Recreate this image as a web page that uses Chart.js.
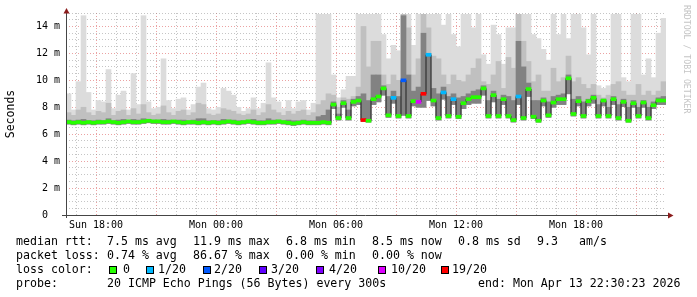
<!DOCTYPE html>
<html><head><meta charset="utf-8">
<script src="https://cdn.jsdelivr.net/npm/chart.js@4.4.1/dist/chart.umd.min.js"></script>
<style>
html,body{margin:0;padding:0;background:#fff;}
#wrap{position:relative;width:697px;height:297px;overflow:hidden;background:#fff;}
#c{position:absolute;left:0;top:0;}
.t{position:absolute;font-family:"DejaVu Sans Mono",monospace;font-size:11.6px;line-height:14px;color:#000;white-space:pre;}
.sq{position:absolute;width:8px;height:8px;box-sizing:border-box;border:1px solid #000;}
#wm{position:absolute;left:682px;top:5px;font-family:"DejaVu Sans Mono",monospace;font-size:8.2px;line-height:9px;color:#c4c4c4;writing-mode:vertical-rl;white-space:nowrap;}
</style></head>
<body>
<div id="wrap">
<canvas id="c" width="697" height="297"></canvas>
<div id="wm">RRDTOOL / TOBI OETIKER</div>
<div id="legend"></div>
</div>
<script>
// ---- data (ms), one value per 15-minute slot starting Sun 16:30 ----
const median = [
 6.9, 6.85, 6.9, 6.85, 6.9, 6.85, 6.9, 6.9, 6.95, 6.9,
 6.85, 6.9, 6.95, 6.9, 6.9, 6.95, 7.0, 6.95, 6.95, 6.9,
 6.9, 6.95, 6.9, 6.85, 6.9, 6.9, 6.85, 6.9, 6.85, 6.9,
 6.85, 6.9, 6.95, 6.9, 6.85, 6.9, 6.95, 6.9, 6.85, 6.85,
 6.9, 6.9, 6.95, 6.9, 6.85, 6.8, 6.85, 6.9, 6.85, 6.85,
 6.85, 6.9, 6.85, 8.2, 7.2, 8.3, 7.2, 8.4, 8.5, 7.05,
 7.0, 8.6, 8.8, 9.4, 7.4, 8.7, 7.35, 10.0, 7.35, 8.45,
 8.4, 9.0, 11.9, 8.5, 7.2, 9.1, 7.35, 8.6, 7.3, 8.3,
 8.6, 8.75, 8.75, 9.4, 7.35, 8.9, 7.35, 8.6, 7.35, 7.05,
 8.8, 7.2, 9.35, 7.3, 7.0, 8.5, 7.4, 8.35, 8.6, 8.6,
 10.15, 7.5, 8.45, 7.35, 8.45, 8.7, 7.35, 8.5, 7.35, 8.6,
 7.2, 8.4, 7.0, 8.3, 7.35, 8.35, 7.2, 8.15, 8.5, 8.5
];
const loss = [
 0,0,0,0,0,0,0,0,0,0,
 0,0,0,0,0,0,0,0,0,0,
 0,0,0,0,0,0,0,0,0,0,
 0,0,0,0,0,0,0,0,0,0,
 0,0,0,0,0,0,0,0,0,0,
 0,0,0,0,0,0,0,0,0,19,
 0,0,0,0,0,1,0,2,0,0,
 10,19,1,0,0,1,0,1,0,0,
 0,0,0,0,0,0,0,0,0,0,
 1,0,0,0,0,0,0,0,0,0,
 0,0,0,0,0,0,0,0,0,0,
 0,0,0,0,0,0,0,0,0,0
];
const smokeMin = [
 6.75, 6.7, 6.75, 6.7, 6.75, 6.7, 6.75, 6.75, 6.8, 6.75,
 6.7, 6.75, 6.8, 6.75, 6.75, 6.8, 6.85, 6.8, 6.8, 6.75,
 6.75, 6.8, 6.75, 6.7, 6.75, 6.75, 6.7, 6.75, 6.7, 6.75,
 6.7, 6.75, 6.8, 6.75, 6.7, 6.75, 6.8, 6.75, 6.7, 6.7,
 6.75, 6.75, 6.8, 6.75, 6.7, 6.65, 6.7, 6.75, 6.7, 6.7,
 6.7, 6.75, 6.7, 7.9, 7.05, 8.0, 7.05, 8.1, 8.2, 6.95,
 6.9, 8.2, 8.4, 8.9, 7.25, 8.3, 7.2, 7.4, 7.2, 8.1,
 8.0, 8.0, 8.5, 8.1, 7.05, 8.6, 7.2, 8.2, 7.15, 7.9,
 8.2, 8.3, 8.3, 8.9, 7.2, 8.4, 7.2, 8.2, 7.2, 6.9,
 8.2, 7.05, 8.8, 7.15, 6.9, 8.1, 7.25, 8.0, 8.2, 8.2,
 9.0, 7.35, 8.1, 7.2, 8.1, 8.3, 7.2, 8.1, 7.2, 8.2,
 7.05, 8.05, 6.9, 8.0, 7.2, 8.0, 7.05, 7.9, 8.2, 8.2
];
const smokeDark = [
 7.05, 7.0, 7.05, 7.1, 7.0, 7.0, 7.05, 7.0, 7.15, 7.0,
 7.05, 7.1, 7.0, 7.1, 7.05, 7.15, 7.1, 7.05, 7.05, 7.1,
 7.05, 7.0, 7.05, 7.05, 7.0, 7.05, 7.15, 7.15, 7.0, 7.0,
 7.0, 7.1, 7.05, 7.05, 7.0, 7.0, 7.05, 7.1, 7.0, 7.0,
 7.15, 7.05, 7.05, 7.0, 7.05, 7.0, 7.0, 7.05, 7.0, 7.0,
 7.3, 7.4, 7.8, 8.4, 7.5, 8.5, 7.8, 8.6, 8.8, 9.0,
 8.5, 10.4, 10.4, 9.6, 8.8, 9.2, 8.8, 14.8, 10.4, 9.2,
 9.5, 13.5, 12.0, 9.4, 9.0, 9.5, 8.8, 9.0, 8.7, 8.8,
 9.0, 9.2, 9.3, 9.6, 8.5, 9.2, 8.6, 8.9, 8.8, 8.5,
 12.9, 11.0, 9.8, 8.5, 8.5, 8.7, 8.4, 8.8, 8.9, 9.0,
 10.4, 8.6, 8.8, 8.4, 8.6, 8.9, 8.2, 8.6, 8.0, 8.8,
 8.2, 8.6, 8.0, 8.5, 8.0, 8.5, 8.0, 8.4, 8.7, 8.8
];
const smokeMid = [
 7.6, 7.4, 7.8, 8.0, 7.6, 7.4, 7.7, 7.6, 8.3, 7.4,
 7.7, 7.8, 7.4, 7.9, 7.5, 8.2, 7.6, 7.4, 7.5, 8.1,
 7.6, 7.4, 7.7, 7.8, 7.4, 7.6, 8.3, 8.2, 7.5, 7.4,
 7.5, 7.9, 7.8, 7.7, 7.5, 7.4, 7.5, 7.8, 7.4, 7.6,
 8.2, 7.8, 7.6, 7.4, 7.7, 7.5, 7.7, 7.8, 7.4, 7.6,
 8.2, 8.5, 9.0, 8.9, 8.0, 8.7, 8.6, 8.8, 9.5, 14.0,
 11.0, 12.9, 12.9, 10.4, 9.7, 10.4, 10.0, 14.9, 13.9, 10.4,
 11.6, 14.9, 13.9, 11.8, 11.6, 10.4, 9.7, 10.4, 10.0, 9.9,
 10.4, 10.9, 11.6, 9.9, 9.7, 10.4, 11.4, 9.4, 11.7, 10.9,
 14.9, 12.9, 11.4, 9.9, 10.4, 9.2, 9.2, 10.9, 9.9, 10.2,
 11.8, 9.9, 10.2, 9.7, 9.4, 9.7, 8.9, 8.7, 8.9, 9.7,
 9.9, 9.2, 8.9, 8.9, 9.7, 8.9, 9.2, 8.9, 9.2, 9.9
];
const smokeMax = [
 9.0, 7.8, 9.9, 14.8, 9.1, 7.8, 8.5, 8.4, 10.8, 7.9,
 8.9, 9.2, 7.8, 10.5, 8.2, 14.8, 8.4, 7.9, 8.0, 11.6,
 8.5, 7.9, 8.6, 8.7, 7.8, 8.2, 9.5, 9.8, 7.9, 7.8,
 8.0, 9.4, 9.2, 8.9, 8.0, 7.7, 7.9, 8.7, 7.9, 8.3,
 11.3, 8.7, 8.4, 7.9, 8.5, 7.9, 8.4, 8.5, 7.8, 8.3,
 14.9, 14.9, 14.9, 10.4, 8.7, 9.3, 10.3, 10.3, 14.9, 14.9,
 14.9, 14.9, 14.9, 13.4, 11.6, 12.6, 12.2, 14.9, 14.9, 12.6,
 14.9, 14.9, 14.9, 14.9, 14.9, 14.1, 14.9, 13.4, 12.5, 14.9,
 14.9, 13.9, 14.9, 11.9, 11.2, 14.1, 13.4, 11.2, 13.9, 13.9,
 14.9, 14.9, 14.9, 13.4, 13.1, 12.3, 11.5, 14.9, 13.4, 14.9,
 13.1, 14.9, 14.9, 13.9, 11.9, 14.9, 9.6, 9.4, 9.6, 14.9,
 14.9, 10.2, 9.9, 14.9, 14.9, 10.4, 11.6, 10.2, 13.5, 14.6
];
// tick labels
const xTickMinutes = [90, 450, 810, 1170, 1530];
const xTickLabels = ['Sun 18:00', 'Mon 00:00', 'Mon 06:00', 'Mon 12:00', 'Mon 18:00'];
const yTickValues = [0, 2, 4, 6, 8, 10, 12, 14];
const yTickLabels = ['0  ', '2 m', '4 m', '6 m', '8 m', '10 m', '12 m', '14 m'];
// loss legend
const lossLevels = [0, 1, 2, 3, 4, 10, 19];
const lossLabels = ['0', '1/20', '2/20', '3/20', '4/20', '10/20', '19/20'];
const lossColors = ['#26ff00', '#00b8ff', '#0059ff', '#5e00ff', '#7e00ff', '#dd00ff', '#ff0000'];

// ---- build ----
const SLOT = 15, SPAN = 1800;
const xs = median.map((_, i) => SLOT * (i + 0.5));
function lossColor(l) { let k = 0; lossLevels.forEach((lv, j) => { if (l >= lv) k = j; }); return lossColors[k]; }
const MAJOR = 'rgba(215,70,70,0.5)', MINOR = 'rgba(150,150,150,0.55)';
const mono = 'DejaVu Sans Mono';

function band(lo, hi, color, order) {
  return { type: 'bar', data: xs.map((x, i) => ({ x: x, y: [lo[i], hi[i]] })), backgroundColor: color,
    borderWidth: 0, order: order, barPercentage: 1, categoryPercentage: 1, grouped: false };
}
const axesPlugin = {
  id: 'axes',
  afterDraw(chart) {
    const { ctx, chartArea: a } = chart;
    ctx.save();
    ctx.strokeStyle = '#454545'; ctx.lineWidth = 1;
    ctx.beginPath();
    ctx.moveTo(a.left + 0.5, a.bottom + 3); ctx.lineTo(a.left + 0.5, a.top - 2);
    ctx.moveTo(a.left - 4, a.bottom + 0.5); ctx.lineTo(a.right + 3, a.bottom + 0.5);
    ctx.stroke();
    ctx.fillStyle = '#8b1c1c';
    ctx.beginPath();
    ctx.moveTo(a.left + 0.5, a.top - 5); ctx.lineTo(a.left - 2.5, a.top + 0.5); ctx.lineTo(a.left + 3.5, a.top + 0.5); ctx.closePath(); ctx.fill();
    ctx.beginPath();
    ctx.moveTo(a.right + 7.5, a.bottom + 0.5); ctx.lineTo(a.right + 2, a.bottom - 2.5); ctx.lineTo(a.right + 2, a.bottom + 3.5); ctx.closePath(); ctx.fill();
    ctx.restore();
  }
};

new Chart(document.getElementById('c'), {
  type: 'bar',
  data: { datasets: [
    band(smokeMin, smokeMax, '#dcdcdc', 5),
    band(smokeMin, smokeMid, '#c0c0c0', 4),
    band(smokeMin, smokeDark, '#828282', 3),
    { type: 'line', data: xs.map((x, i) => ({ x: x, y: median[i] })), borderColor: '#202020', borderWidth: 1,
      pointRadius: 0, stepped: 'middle', order: 2, fill: false },
    { type: 'bar', data: xs.map((x, i) => ({ x: x, y: [median[i] - 0.11, median[i] + 0.11] })),
      backgroundColor: loss.map(lossColor), borderWidth: 0, order: 1, barPercentage: 1, categoryPercentage: 1, grouped: false }
  ]},
  options: {
    responsive: false, animation: false, events: [],
    layout: { padding: { left: 0, right: 31, top: 13, bottom: 0 } },
    plugins: { legend: { display: false }, tooltip: { enabled: false } },
    scales: {
      x: {
        type: 'linear', min: 0, max: SPAN, offset: false,
        afterBuildTicks: s => { const t = []; for (let m = 30; m < SPAN; m += 60) t.push({ value: m }); s.ticks = t; },
        afterFit: s => { s.height = 82; },
        grid: { drawTicks: false, offset: false, lineWidth: 1,
          color: c => (c.tick && (c.tick.value - 90) % 180 === 0) ? MAJOR : MINOR },
        border: { display: false, dash: [1, 2] },
        ticks: { autoSkip: false, maxRotation: 0, minRotation: 0, padding: 4, color: '#000',
          font: { family: mono, size: 10 },
          callback: v => { const k = xTickMinutes.indexOf(v); return k >= 0 ? xTickLabels[k] : ''; } }
      },
      y: {
        min: 0, max: 15,
        afterBuildTicks: s => { const t = []; for (let v = 0; v <= 15; v += 0.5) t.push({ value: v }); s.ticks = t; },
        afterFit: s => { s.width = 66; },
        grid: { drawTicks: false, lineWidth: 1, color: c => (c.tick && c.tick.value % 2 === 0) ? MAJOR : MINOR },
        border: { display: false, dash: [1, 2] },
        ticks: { autoSkip: false, padding: 6, color: '#000', font: { family: mono, size: 10 },
          callback: v => { const k = yTickValues.indexOf(v); return k >= 0 ? yTickLabels[k] : ''; } },
        title: { display: true, text: 'Seconds', color: '#000', font: { family: mono, size: 11.5 }, padding: { top: 4, bottom: 0 } }
      }
    }
  },
  plugins: [axesPlugin]
});

// ---- legend text below the graph ----
const rows = [
  { top: 234, items: [['median rtt:', 16], ['7.5 ms avg', 107], ['11.9 ms max', 193], ['6.8 ms min', 286], ['8.5 ms now', 372], ['0.8 ms sd', 458], ['9.3', 537], ['am/s', 579]] },
  { top: 248, items: [['packet loss:', 16], ['0.74 % avg', 107], ['86.67 % max', 193], ['0.00 % min', 286], ['0.00 % now', 372]] },
  { top: 262, items: [['loss color:', 16]] },
  { top: 276, items: [['probe:', 16], ['20 ICMP Echo Pings (56 Bytes) every 300s', 107], ['end: Mon Apr 13 22:30:23 2026', 478]] }
];
const lg = document.getElementById('legend');
rows.forEach(r => r.items.forEach(([txt, x]) => {
  const d = document.createElement('div'); d.className = 't'; d.style.left = x + 'px'; d.style.top = r.top + 'px'; d.textContent = txt; lg.appendChild(d);
}));
const sqLeft = [109, 146, 203, 259, 316, 378, 441];
const lbLeft = [123, 158, 214, 271, 329, 391, 452];
lossLabels.forEach((txt, k) => {
  const s = document.createElement('div'); s.className = 'sq'; s.style.left = sqLeft[k] + 'px'; s.style.top = '266px'; s.style.background = lossColors[k]; lg.appendChild(s);
  const d = document.createElement('div'); d.className = 't'; d.style.left = lbLeft[k] + 'px'; d.style.top = '262px'; d.textContent = txt; lg.appendChild(d);
});
</script>
</body></html>
